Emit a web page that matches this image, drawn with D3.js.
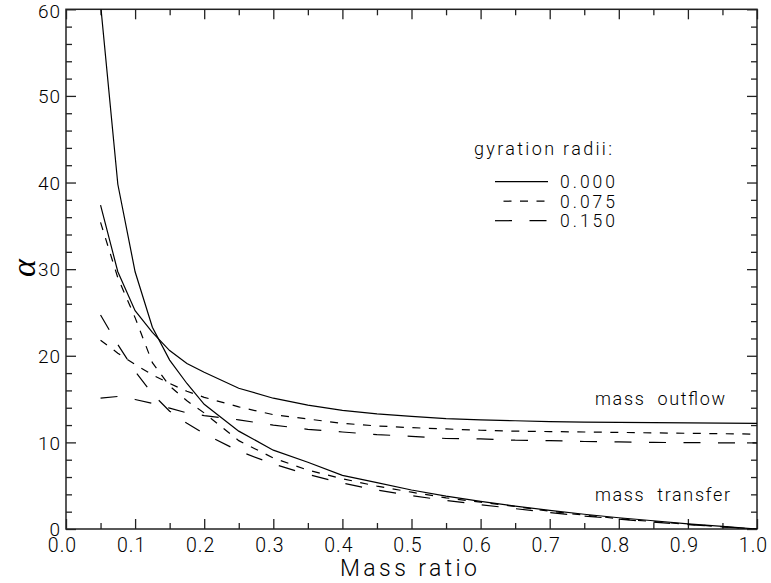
<!DOCTYPE html>
<html><head><meta charset="utf-8">
<script src="https://cdn.jsdelivr.net/npm/d3@7"></script>
<style>
body{margin:0;background:#fff}
text{font-family:Roboto, "DejaVu Sans", sans-serif;font-weight:300;fill:#000}
</style>
</head><body><svg id="c" width="771" height="583"></svg>
<script>
// ---- data ----
const massRatio      = [0.05,0.075,0.1,0.125,0.15,0.175,0.2,0.25,0.3,0.35,0.4,0.45,0.5,0.55,0.6,0.65,0.7,0.75,0.8,0.85,0.9,0.95,1.0];
const transfer000    = [60.6,39.8,29.7,23.3,19.5,16.8,14.4,11.3,9.1,7.7,6.2,5.35,4.5,3.8,3.2,2.65,2.15,1.7,1.3,0.95,0.6,0.3,0.0];
const transfer075    = [35.4,29.0,24.4,19.2,16.5,14.8,13.4,10.2,8.2,6.8,5.8,4.95,4.25,3.6,3.1,2.6,2.05,1.6,1.2,0.85,0.55,0.25,0.0];
const transfer150    = [24.7,21.3,18.2,15.6,13.6,12.2,11.0,9.0,7.5,6.3,5.3,4.5,3.85,3.3,2.8,2.35,1.9,1.5,1.15,0.8,0.5,0.25,0.0];
const outflow000     = [37.4,29.7,25.2,22.7,20.6,19.1,18.1,16.25,15.1,14.3,13.7,13.3,13.0,12.75,12.6,12.5,12.4,12.35,12.3,12.27,12.25,12.22,12.2];
const outflow075     = [21.8,20.3,19.0,17.8,16.8,15.9,15.2,14.1,13.2,12.7,12.2,11.9,11.7,11.55,11.4,11.3,11.25,11.2,11.15,11.1,11.05,11.0,10.95];
const outflow150     = [15.1,15.3,14.95,14.5,13.95,13.4,13.1,12.6,12.0,11.5,11.2,10.9,10.7,10.45,10.4,10.25,10.2,10.1,10.05,10.0,9.97,9.95,9.93];
const gyrationRadii  = ["0.000","0.075","0.150"];
const xMajorTicks    = [0,0.1,0.2,0.3,0.4,0.5,0.6,0.7,0.8,0.9,1.0];
const xMinorTicks    = [0.05,0.15,0.25,0.35,0.45,0.55,0.65,0.75,0.85,0.95];
const yMajorTicks    = [0,10,20,30,40,50,60];
const yMinorTicks    = [2,4,6,8,12,14,16,18,22,24,26,28,32,34,36,38,42,44,46,48,52,54,56,58];

// ---- layout ----
const L=66, R=757, T=9.3, B=529;
const svg=d3.select("#c");
const x=d3.scaleLinear().domain([0,1]).range([L,R]);
const y=d3.scaleLinear().domain([0,60]).range([B,T]);
const dashes={"0.000":null,"0.075":"8,8.5","0.150":"17,17.5"};

svg.append("defs").append("clipPath").attr("id","clip")
  .append("rect").attr("x",L).attr("y",T).attr("width",R-L).attr("height",B-T);

function styleAxis(g){ g.select(".domain").remove(); g.selectAll("line").attr("stroke","#222").attr("stroke-width",1.3); }
const fmtX=d3.format(".1f");
svg.append("g").attr("transform",`translate(0,${B})`)
  .call(d3.axisBottom(x).tickValues(xMajorTicks).tickSize(-10).tickSizeOuter(0).tickFormat(fmtX))
  .call(styleAxis)
  .call(g=>g.selectAll("text").attr("dy",null).attr("y",23).attr("x",-4).attr("font-size",19.5).attr("letter-spacing","1px"));
svg.append("g").attr("transform",`translate(0,${B})`)
  .call(d3.axisBottom(x).tickValues(xMinorTicks).tickSize(-6).tickSizeOuter(0).tickFormat(""))
  .call(styleAxis);
svg.append("g").attr("transform",`translate(0,${T})`)
  .call(d3.axisTop(x).tickValues(xMajorTicks).tickSize(-10).tickSizeOuter(0).tickFormat(""))
  .call(styleAxis);
svg.append("g").attr("transform",`translate(0,${T})`)
  .call(d3.axisTop(x).tickValues(xMinorTicks).tickSize(-6).tickSizeOuter(0).tickFormat(""))
  .call(styleAxis);
svg.append("g").attr("transform",`translate(${L},0)`)
  .call(d3.axisLeft(y).tickValues(yMajorTicks).tickSize(-10).tickSizeOuter(0).tickPadding(5).tickFormat(d3.format("d")))
  .call(styleAxis)
  .call(g=>g.selectAll("text").attr("font-size",19).attr("letter-spacing","1px").attr("dy",(d)=>d===60?"0.42em":"0.36em"));
svg.append("g").attr("transform",`translate(${L},0)`)
  .call(d3.axisLeft(y).tickValues(yMinorTicks).tickSize(-6).tickSizeOuter(0).tickFormat(""))
  .call(styleAxis);
svg.append("g").attr("transform",`translate(${R},0)`)
  .call(d3.axisRight(y).tickValues(yMajorTicks).tickSize(-10).tickSizeOuter(0).tickFormat(""))
  .call(styleAxis);
svg.append("g").attr("transform",`translate(${R},0)`)
  .call(d3.axisRight(y).tickValues(yMinorTicks).tickSize(-6).tickSizeOuter(0).tickFormat(""))
  .call(styleAxis);

svg.append("rect").attr("x",L).attr("y",T).attr("width",R-L).attr("height",B-T)
  .attr("fill","none").attr("stroke","#222").attr("stroke-width",1.5);

// curves
const line=d3.line().x((d,i)=>x(massRatio[i])).y(d=>y(d));
const series=[
  {v:transfer000,r:"0.000"},{v:transfer075,r:"0.075"},{v:transfer150,r:"0.150"},
  {v:outflow000,r:"0.000"},{v:outflow075,r:"0.075"},{v:outflow150,r:"0.150"}];
const gc=svg.append("g").attr("clip-path","url(#clip)");
gc.selectAll("path").data(series).join("path")
  .attr("d",d=>line(d.v)).attr("fill","none").attr("stroke","#000").attr("stroke-width",1.2)
  .attr("stroke-dasharray",d=>dashes[d.r]);

// axis titles
svg.append("text").attr("x",340).attr("y",576).attr("font-size",23)
  .attr("textLength",137).attr("lengthAdjust","spacing").text("Mass ratio");
svg.append("text").attr("transform","translate(35,268) rotate(-90)").attr("text-anchor","middle")
  .style("font-family","'Liberation Serif', serif").style("font-style","italic").style("font-weight","400")
  .attr("font-size",34).text("α");

// legend
svg.append("text").attr("x",474).attr("y",155).attr("font-size",18)
  .attr("textLength",138).attr("lengthAdjust","spacing").text("gyration radii:");
const lg=svg.append("g");
gyrationRadii.forEach((r,i)=>{
  const yy=181.7+i*19.5;
  lg.append("line").attr("x1",495).attr("x2",548).attr("y1",yy).attr("y2",yy)
    .attr("stroke","#000").attr("stroke-width",1.2)
    .attr("stroke-dasharray",dashes[r]).attr("stroke-dashoffset",r==="0.075"?8:0);
  lg.append("text").attr("x",560).attr("y",yy+6.5).attr("font-size",17.5)
    .attr("textLength",55).attr("lengthAdjust","spacing").text(r);
});

// annotations
svg.append("text").attr("x",595).attr("y",405).attr("font-size",18).attr("textLength",130).attr("xml:space","preserve").text("mass  outflow");
svg.append("text").attr("x",595).attr("y",500.5).attr("font-size",18).attr("textLength",135).attr("xml:space","preserve").text("mass  transfer");
</script></body></html>
